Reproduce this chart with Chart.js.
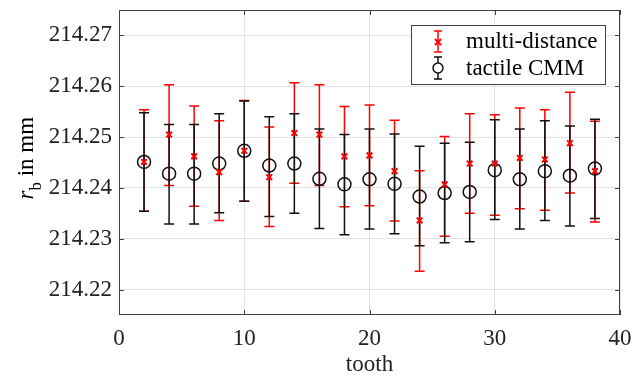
<!DOCTYPE html>
<html>
<head>
<meta charset="utf-8">
<script src="https://cdn.jsdelivr.net/npm/chart.js@4.4.1/dist/chart.umd.min.js"></script>
<style>
  html, body { margin: 0; padding: 0; background: #fff; }
  canvas { display: block; }
</style>
</head>
<body>
<canvas id="toothChart" width="633" height="376"></canvas>
<script>
// ---- data ----
const teeth = [2, 4, 6, 8, 10, 12, 14, 16, 18, 20, 22, 24, 26, 28, 30, 32, 34, 36, 38];

// multi-distance (red crosses)
const mdValue = [214.2451, 214.2505, 214.2462, 214.2431, 214.2473, 214.2421, 214.2508, 214.2505, 214.2462, 214.2464,
                 214.2433, 214.2336, 214.2407, 214.2448, 214.2448, 214.2459, 214.2456, 214.2488, 214.2433];
const mdHigh  = [214.2554, 214.2603, 214.2561, 214.2532, 214.2572, 214.2520, 214.2607, 214.2603, 214.2560, 214.2563,
                 214.2533, 214.2434, 214.2501, 214.2546, 214.2544, 214.2557, 214.2554, 214.2588, 214.2531];
const mdLow   = [214.2354, 214.2405, 214.2364, 214.2336, 214.2374, 214.2324, 214.2409, 214.2405, 214.2363, 214.2365,
                 214.2335, 214.2236, 214.2305, 214.2350, 214.2346, 214.2359, 214.2356, 214.2390, 214.2333];

// tactile CMM (black circles)
const cmmValue = [214.2451, 214.2428, 214.2428, 214.2448, 214.2473, 214.2444, 214.2448, 214.2418, 214.2407, 214.2417,
                  214.2408, 214.2383, 214.2390, 214.2392, 214.2435, 214.2417, 214.2433, 214.2424, 214.2438];
const cmmHigh  = [214.2548, 214.2525, 214.2525, 214.2546, 214.2571, 214.2540, 214.2546, 214.2516, 214.2505, 214.2516,
                  214.2506, 214.2482, 214.2488, 214.2490, 214.2534, 214.2516, 214.2532, 214.2522, 214.2535];
const cmmLow   = [214.2354, 214.2329, 214.2329, 214.2351, 214.2374, 214.2344, 214.2350, 214.2320, 214.2308, 214.2319,
                  214.2310, 214.2286, 214.2292, 214.2294, 214.2338, 214.2319, 214.2336, 214.2325, 214.2340];

const xTicks = [0, 10, 20, 30, 40];
const yTicks = [214.22, 214.23, 214.24, 214.25, 214.26, 214.27];

const RED = "#ff0000";
const BLACK = "#111111";
const FONT = "'Liberation Serif', 'Times New Roman', serif";

function pts(vals) {
    return teeth.map((t, i) => ({ x: t, y: vals[i] }));
}

// error bars, frame with inward ticks, y title and legend
const matlabLook = {
    id: "matlabLook",
    beforeDatasetsDraw(chart) {
        const ctx = chart.ctx, xs = chart.scales.x, ys = chart.scales.y;
        const bars = [
            { low: mdLow, high: mdHigh, color: RED },
            { low: cmmLow, high: cmmHigh, color: BLACK }
        ];
        ctx.save();
        ctx.lineWidth = 1.5;
        bars.forEach(b => {
            ctx.strokeStyle = b.color;
            teeth.forEach((t, i) => {
                const x = xs.getPixelForValue(t);
                const y1 = ys.getPixelForValue(b.low[i]);
                const y2 = ys.getPixelForValue(b.high[i]);
                ctx.beginPath();
                ctx.moveTo(x, y1); ctx.lineTo(x, y2);
                ctx.moveTo(x - 5, y1); ctx.lineTo(x + 5, y1);
                ctx.moveTo(x - 5, y2); ctx.lineTo(x + 5, y2);
                ctx.stroke();
            });
        });
        ctx.restore();
    },
    afterDraw(chart) {
        const ctx = chart.ctx, a = chart.chartArea;
        const xs = chart.scales.x, ys = chart.scales.y;
        ctx.save();
        // frame
        ctx.strokeStyle = "#404040";
        ctx.lineWidth = 1;
        ctx.strokeRect(Math.round(a.left) + 0.5, Math.round(a.top) + 0.5,
                       Math.round(a.right - a.left) - 1, Math.round(a.bottom - a.top) - 1);
        // inward ticks on all four sides
        ctx.beginPath();
        const tl = 5;
        yTicks.forEach(v => {
            const y = Math.round(ys.getPixelForValue(v)) + 0.5;
            ctx.moveTo(a.left, y); ctx.lineTo(a.left + tl, y);
            ctx.moveTo(a.right, y); ctx.lineTo(a.right - tl, y);
        });
        xTicks.forEach(v => {
            const x = Math.round(xs.getPixelForValue(v)) + 0.5;
            ctx.moveTo(x, a.bottom); ctx.lineTo(x, a.bottom - tl);
            ctx.moveTo(x, a.top); ctx.lineTo(x, a.top + tl);
        });
        ctx.stroke();

        // y axis title: r_b in mm
        ctx.fillStyle = "#000";
        ctx.translate(33, (a.top + a.bottom) / 2 + 37);
        ctx.rotate(-Math.PI / 2);
        ctx.textBaseline = "alphabetic";
        ctx.textAlign = "left";
        ctx.font = "italic 23px " + FONT;
        ctx.fillText("r", 0, 0);
        let off = ctx.measureText("r").width;
        ctx.font = "17px " + FONT;
        ctx.fillText("b", off, 8);
        off += ctx.measureText("b").width;
        ctx.font = "23px " + FONT;
        ctx.fillText(" in mm", off, 0);
        ctx.setTransform(1, 0, 0, 1, 0, 0);

        // legend box
        const bx = Math.round(a.right) - 209, by = Math.round(a.top) + 15;
        const bw = 194, bh = 59;
        ctx.fillStyle = "#fff";
        ctx.fillRect(bx, by, bw, bh);
        ctx.strokeStyle = "#404040";
        ctx.lineWidth = 1;
        ctx.strokeRect(bx + 0.5, by + 0.5, bw, bh);

        const ix = bx + 27;
        ctx.lineWidth = 1.5;
        // red entry
        ctx.strokeStyle = RED;
        ctx.beginPath();
        ctx.moveTo(ix, by + 6); ctx.lineTo(ix, by + 27);
        ctx.moveTo(ix - 4, by + 6); ctx.lineTo(ix + 4, by + 6);
        ctx.moveTo(ix - 4, by + 27); ctx.lineTo(ix + 4, by + 27);
        ctx.stroke();
        ctx.lineWidth = 2;
        ctx.beginPath();
        ctx.moveTo(ix - 3, by + 14); ctx.lineTo(ix + 3, by + 20);
        ctx.moveTo(ix + 3, by + 14); ctx.lineTo(ix - 3, by + 20);
        ctx.stroke();
        // black entry
        ctx.lineWidth = 1.5;
        ctx.strokeStyle = BLACK;
        ctx.beginPath();
        ctx.moveTo(ix, by + 32); ctx.lineTo(ix, by + 54);
        ctx.moveTo(ix - 4, by + 32); ctx.lineTo(ix + 4, by + 32);
        ctx.moveTo(ix - 4, by + 54); ctx.lineTo(ix + 4, by + 54);
        ctx.stroke();
        ctx.fillStyle = "#fff";
        ctx.beginPath();
        ctx.arc(ix, by + 43, 5, 0, Math.PI * 2);
        ctx.fill();
        ctx.stroke();

        ctx.fillStyle = "#000";
        ctx.font = "23px " + FONT;
        ctx.fillText("multi-distance", bx + 55, by + 23);
        ctx.fillText("tactile CMM", bx + 55, by + 50);
        ctx.restore();
    }
};

new Chart(document.getElementById("toothChart"), {
    type: "scatter",
    data: {
        datasets: [
            {
                label: "multi-distance",
                data: pts(mdValue),
                pointStyle: "crossRot",
                pointRadius: 4,
                pointHoverRadius: 4,
                borderColor: RED,
                backgroundColor: RED,
                pointBorderWidth: 2,
                showLine: false
            },
            {
                label: "tactile CMM",
                data: pts(cmmValue),
                pointStyle: "circle",
                pointRadius: 6.5,
                pointHoverRadius: 6.5,
                borderColor: BLACK,
                backgroundColor: "rgba(0,0,0,0)",
                pointBorderWidth: 1.5,
                showLine: false
            }
        ]
    },
    options: {
        responsive: false,
        animation: false,
        devicePixelRatio: 1,
        layout: { padding: { left: 0, right: 13, top: 10, bottom: 0 } },
        plugins: {
            legend: { display: false },
            tooltip: { enabled: false }
        },
        scales: {
            x: {
                type: "linear",
                min: 0,
                max: 40,
                afterBuildTicks: axis => { axis.ticks = xTicks.map(v => ({ value: v })); },
                afterFit: axis => {
                    axis.height = 61;
                    axis.paddingLeft = 0;
                    axis.paddingRight = 0;
                },
                grid: { color: "#e3e3e3", drawTicks: false },
                border: { display: false },
                ticks: {
                    padding: 10,
                    color: "#222",
                    font: { family: FONT, size: 23 },
                    maxRotation: 0
                },
                title: {
                    display: true,
                    text: "tooth",
                    color: "#222",
                    font: { family: FONT, size: 23 },
                    padding: { top: 0, bottom: -3 }
                }
            },
            y: {
                type: "linear",
                min: 214.215,
                max: 214.275,
                afterBuildTicks: axis => { axis.ticks = yTicks.map(v => ({ value: v })); },
                afterFit: axis => {
                    axis.width = 119;
                    axis.paddingTop = 0;
                    axis.paddingBottom = 0;
                },
                grid: { color: "#e3e3e3", drawTicks: false },
                border: { display: false },
                ticks: {
                    padding: 7,
                    color: "#222",
                    font: { family: FONT, size: 23 },
                    callback: v => v.toFixed(2)
                }
            }
        }
    },
    plugins: [matlabLook]
});
</script>
</body>
</html>
